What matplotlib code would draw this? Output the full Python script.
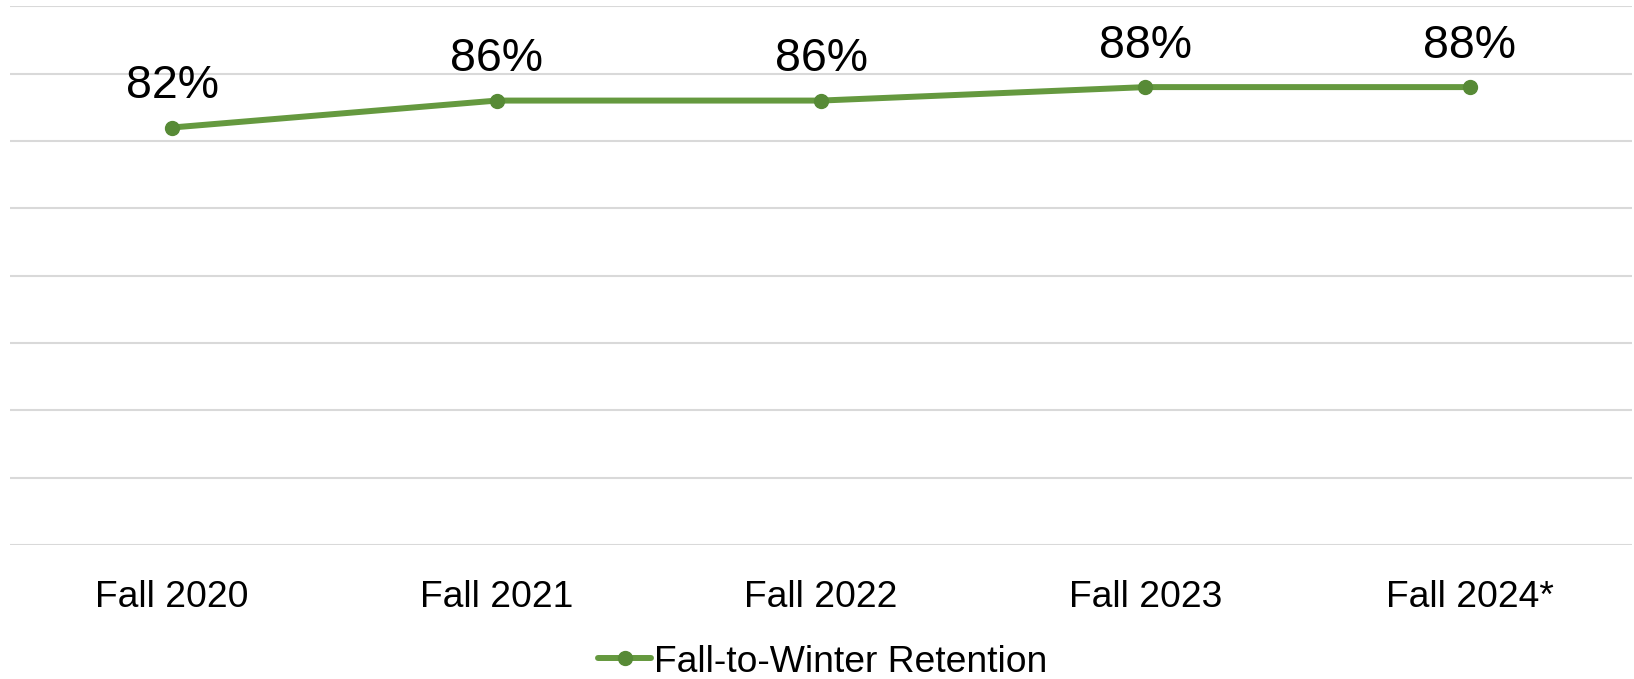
import matplotlib
matplotlib.use("Agg")
import matplotlib.pyplot as plt

categories = ["Fall 2020", "Fall 2021", "Fall 2022", "Fall 2023", "Fall 2024*"]
retention = [82, 86, 86, 88, 88]
labels = ["82%", "86%", "86%", "88%", "88%"]
series_name = "Fall-to-Winter Retention"

plt.rcParams['font.family'] = ['Liberation Sans', 'DejaVu Sans']

fig = plt.figure(figsize=(16.34, 6.79), dpi=100)
ax = fig.add_axes([10/1634, 1 - 545/679, 1622/1634, (545 - 6.3)/679])

x = list(range(len(categories)))
ax.plot(x, retention, color='#65993F', linewidth=4.3, marker='o',
        markersize=10, markerfacecolor='#578A36', markeredgecolor='#578A36',
        label=series_name, solid_capstyle='round', zorder=3)

for xi, v, lab in zip(x, retention, labels):
    ax.annotate(lab, (xi, v), xytext=(0, 21), textcoords='offset points',
                ha='center', va='baseline', fontsize=33.5, color='black')

ax.set_xlim(-0.5, len(categories) - 0.5)
ax.set_ylim(20, 100)
ax.set_yticks(range(20, 101, 10))
ax.yaxis.grid(True, color='#D9D9D9', linewidth=1.5)
ax.set_axisbelow(True)
ax.tick_params(axis='y', left=False, labelleft=False)
ax.set_xticks(x)
ax.set_xticklabels(categories, fontsize=26.8)
ax.tick_params(axis='x', length=0, pad=25)
for s in ax.spines.values():
    s.set_visible(False)

leg = ax.legend(loc='center', bbox_to_anchor=(0.5 + 6/1634, 1 - 662/679), bbox_transform=fig.transFigure,
                frameon=False, fontsize=26.8, handlelength=1.4, handletextpad=0.1)

fig.savefig("out.png", dpi=100)
